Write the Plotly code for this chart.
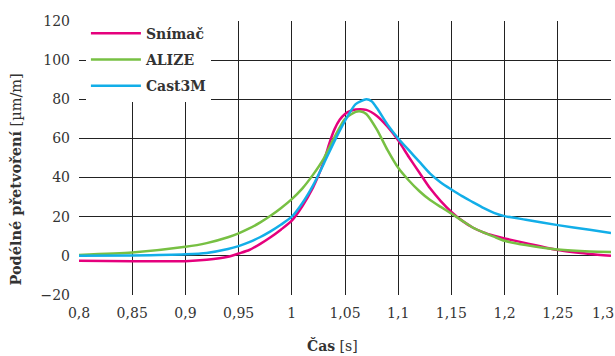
import plotly.graph_objects as go

# ---- data ----
x_snimac = [0.80, 0.85, 0.90, 0.92, 0.94, 0.95, 0.96, 0.97, 0.98, 0.99, 1.00, 1.01, 1.02, 1.025, 1.03,
            1.035, 1.04, 1.045, 1.05, 1.055, 1.06, 1.07, 1.08, 1.09, 1.10, 1.11, 1.12, 1.13, 1.14,
            1.15, 1.16, 1.17, 1.18, 1.19, 1.20, 1.22, 1.25, 1.28, 1.30]
y_snimac = [-2.5, -2.7, -2.7, -2.0, -0.5, 1.2, 3.0, 6.0, 9.5, 13.5, 18.0, 25.5, 35.0, 41.0, 48.0,
            57.0, 64.5, 69.5, 72.5, 74.0, 74.8, 74.6, 71.5, 66.0, 59.0, 50.5, 42.5, 34.5, 28.0,
            22.5, 18.0, 14.5, 12.0, 10.3, 8.9, 6.5, 3.0, 1.0, 0.0]

x_alize = [0.80, 0.85, 0.90, 0.92, 0.94, 0.95, 0.96, 0.97, 0.98, 0.99, 1.00, 1.01, 1.02, 1.03, 1.04,
           1.05, 1.06, 1.065, 1.07, 1.08, 1.09, 1.10, 1.11, 1.12, 1.13, 1.14, 1.15, 1.16, 1.17,
           1.18, 1.19, 1.20, 1.22, 1.25, 1.28, 1.30]
y_alize = [0.5, 1.7, 4.6, 6.5, 9.5, 11.5, 14.0, 17.0, 20.5, 24.5, 29.0, 34.5, 41.5, 49.7, 60.5,
           70.0, 73.6, 73.8, 72.5, 64.5, 54.0, 45.0, 38.5, 33.0, 28.5, 25.0, 21.6, 18.0, 14.5,
           12.0, 9.8, 7.7, 5.5, 3.2, 2.2, 2.0]

x_cast = [0.80, 0.85, 0.90, 0.92, 0.94, 0.95, 0.96, 0.97, 0.98, 0.99, 1.00, 1.01, 1.02, 1.03, 1.04,
          1.05, 1.06, 1.07, 1.075, 1.08, 1.09, 1.10, 1.11, 1.12, 1.13, 1.14, 1.15, 1.16,
          1.17, 1.18, 1.19, 1.20, 1.22, 1.25, 1.28, 1.30]
y_cast = [0.0, 0.2, 0.8, 1.5, 3.5, 5.0, 7.0, 9.5, 12.5, 16.0, 20.0, 27.0, 36.0, 47.0, 58.5,
          69.0, 77.5, 80.0, 79.0, 75.5, 67.0, 60.0, 54.0, 48.0, 42.0, 37.5, 33.9, 30.5,
          27.5, 24.5, 22.0, 20.3, 18.5, 15.7, 13.3, 11.7]

x_ticks = [0.8, 0.85, 0.9, 0.95, 1.0, 1.05, 1.1, 1.15, 1.2, 1.25, 1.3]
x_ticktext = ["0,8", "0,85", "0,9", "0,95", "1", "1,05", "1,1", "1,15", "1,2", "1,25", ""]
x_last_tick = [1.3]
x_last_text = ["1,3"]
y_ticks = [-20, 0, 20, 40, 60, 80, 100, 120]
y_ticktext = ["\u221220", "0", "20", "40", "60", "80", "100", "120"]

FONT = "DejaVu Serif"
TXT = "#333333"

fig = go.Figure()
fig.add_trace(go.Scatter(x=x_snimac, y=y_snimac, mode="lines", name="<b>Snímač</b>",
                         line=dict(color="#E5007D", width=2.5, shape="spline", smoothing=0.6),
                         legendgroup="a"))
fig.add_trace(go.Scatter(x=x_alize, y=y_alize, mode="lines", name="<b>ALIZE</b>",
                         line=dict(color="#77C043", width=2.5, shape="spline", smoothing=0.6),
                         legendgroup="b"))
fig.add_trace(go.Scatter(x=x_cast, y=y_cast, mode="lines", name="<b>Cast3M</b>",
                         line=dict(color="#12AEE8", width=2.5, shape="spline", smoothing=0.6),
                         legendgroup="c"))
# invisible helper trace so the secondary x axis (carrying the "1,3" label) is rendered
fig.add_trace(go.Scatter(x=x_last_tick, y=[0], xaxis="x2", mode="markers",
                         marker=dict(opacity=0, size=1), showlegend=False, hoverinfo="skip"))

fig.update_layout(
    width=615, height=356,
    margin=dict(l=79, r=4, t=21, b=61),
    paper_bgcolor="white", plot_bgcolor="white",
    font=dict(family=FONT, size=14, color=TXT),
    showlegend=True,
    legend=dict(x=0.013, y=1.012, xanchor="left", yanchor="top", bgcolor="white",
                borderwidth=0, font=dict(family=FONT, size=14, color=TXT),
                tracegroupgap=5, itemwidth=50),
    xaxis=dict(range=[0.8, 1.3], tickvals=x_ticks, ticktext=x_ticktext, automargin=False,
               showgrid=True, gridcolor="#222222", gridwidth=1, zeroline=False,
               showline=False, ticks="", ticklabelstandoff=8, ticklabeloverflow="allow"),
    xaxis2=dict(range=[0.8, 1.3], overlaying="x", anchor="y", side="bottom",
                tickvals=x_last_tick, ticktext=x_last_text, automargin=False,
                showgrid=False, zeroline=False, showline=False, ticks="",
                ticklabelstandoff=8, ticklabelshift=-8, ticklabeloverflow="allow"),
    yaxis=dict(range=[-20, 120], tickvals=y_ticks, ticktext=y_ticktext, automargin=False,
               showgrid=True, gridcolor="#222222", gridwidth=1, zeroline=False,
               showline=False, ticks="", ticklabelstandoff=8),
    annotations=[
        dict(text="<b>Čas</b> [s]", x=0.4756, y=-0.186, xref="paper", yref="paper",
             showarrow=False, font=dict(family=FONT, size=14, color=TXT),
             xanchor="center", yanchor="middle"),
        dict(text="<b>Podélné přetvoření</b> [µm/m]", x=-0.119, y=0.42, xref="paper", yref="paper",
             showarrow=False, textangle=-90, font=dict(family=FONT, size=14.5, color=TXT),
             xanchor="center", yanchor="middle"),
    ],
)

fig.write_html("out.html", config={"displayModeBar": False},
               post_script="document.body.style.margin='0';")
